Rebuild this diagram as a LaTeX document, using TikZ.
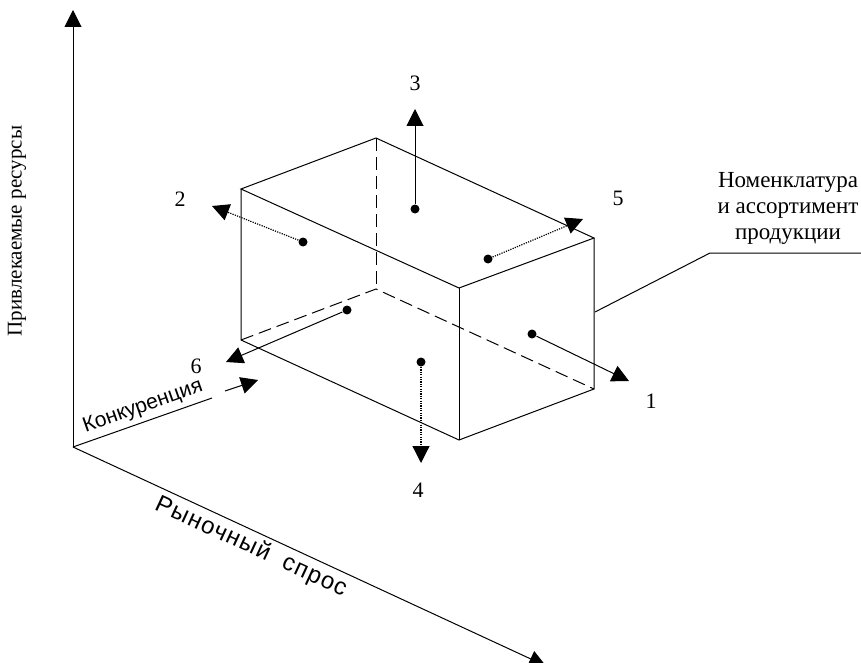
\documentclass[tikz,border=0pt]{standalone}
\usepackage{fontspec}
\setmainfont{Liberation Serif}
\setsansfont{Liberation Sans}
\usetikzlibrary{arrows.meta}

\tikzset{
  punto/.style={circle, fill=black, inner sep=0pt, minimum size=9pt},
  nascosto/.style={dash pattern=on 13pt off 6pt},
  puntinato/.style={line width=1.2pt, dash pattern=on 1.2pt off 1.2pt},
  etichetta/.style={font=\fontsize{22}{26}\selectfont},
}

\begin{document}
\begin{tikzpicture}[x=1pt, y=-1pt, >={Triangle[length=17pt, width=17pt]}, line width=1pt]
    \useasboundingbox (0,0) rectangle (861,663);

    % Assi
    \coordinate (O) at (73,447);
    \coordinate (Ytip) at (73,10);
    \coordinate (Xtip) at (546,666);
    \coordinate (Zend) at (212,398);
    \coordinate (Za) at (225,391);
    \coordinate (Zb) at (258,380);
    \draw[->] (O) -- (Ytip);
    \draw[->] (O) -- (Xtip);
    \draw (O) -- (Zend);
    \draw[->] (Za) -- (Zb);

    % Vertici del parallelepipedo
    \coordinate (A) at (241,189);  \coordinate (B) at (376,138);
    \coordinate (C) at (594,238);  \coordinate (D) at (459,288);
    \coordinate (A1) at (241,340); \coordinate (B1) at (376,289);
    \coordinate (C1) at (594,389); \coordinate (D1) at (459,440);

    % Spigoli visibili
    \draw (A) -- (B) -- (C) -- (D) -- cycle;
    \draw (A) -- (A1) -- (D1) -- (C1) -- (C);
    \draw (D) -- (D1);
    % Spigoli nascosti
    \draw[nascosto] (B) -- (B1);
    \draw[nascosto] (A1) -- (B1) -- (C1);

    % Punti sulle facce
    \node[punto] (p1) at (532,334) {};
    \node[punto] (p2) at (303,242) {};
    \node[punto] (p3) at (415,209) {};
    \node[punto] (p4) at (421,362) {};
    \node[punto] (p5) at (488,259) {};
    \node[punto] (p6) at (347,310) {};

    % Frecce
    \coordinate (t1) at (629,381);
    \coordinate (t2) at (212,206);
    \coordinate (t3) at (415,109);
    \coordinate (t4) at (421,463);
    \coordinate (t5) at (583,219);
    \coordinate (t6) at (226,362);
    \draw[->] (p1) -- (t1);
    \draw[->, puntinato] (p2) -- (t2);
    \draw[->] (p3) -- (t3);
    \draw[->, puntinato] (p4) -- (t4);
    \draw[->, puntinato] (p5) -- (t5);
    \draw[->] (p6) -- (t6);

    % Numeri
    \node[etichetta] (n1) at (651,401) {1};
    \node[etichetta] (n2) at (180,199) {2};
    \node[etichetta] (n3) at (415,83) {3};
    \node[etichetta] (n4) at (418,490) {4};
    \node[etichetta] (n5) at (618,198) {5};
    \node[etichetta] (n6) at (196,366) {6};

    % Richiamo
    \coordinate (r0) at (595,312);
    \coordinate (r1) at (710,253);
    \coordinate (r2) at (861,253);
    \draw (r0) -- (r1) -- (r2);
    \node[align=center, font=\fontsize{23}{26}\selectfont] (nom) at (788,208)
        {Номенклатура\\и ассортимент\\продукции};

    % Nomi degli assi
    \node[font=\fontsize{21}{24}\selectfont, rotate=90] (ris) at (17,231) {Привлекаемые ресурсы};
    \node[font=\sffamily\fontsize{24}{28}\selectfont\addfontfeature{LetterSpace=5}, rotate=-24.8] (dom) at (251,547) {Рыночный\ \ спрос};
    \node[font=\sffamily\fontsize{21}{24}\selectfont, rotate=19.4] (con) at (143,407) {Конкуренция};
\end{tikzpicture}
\end{document}
